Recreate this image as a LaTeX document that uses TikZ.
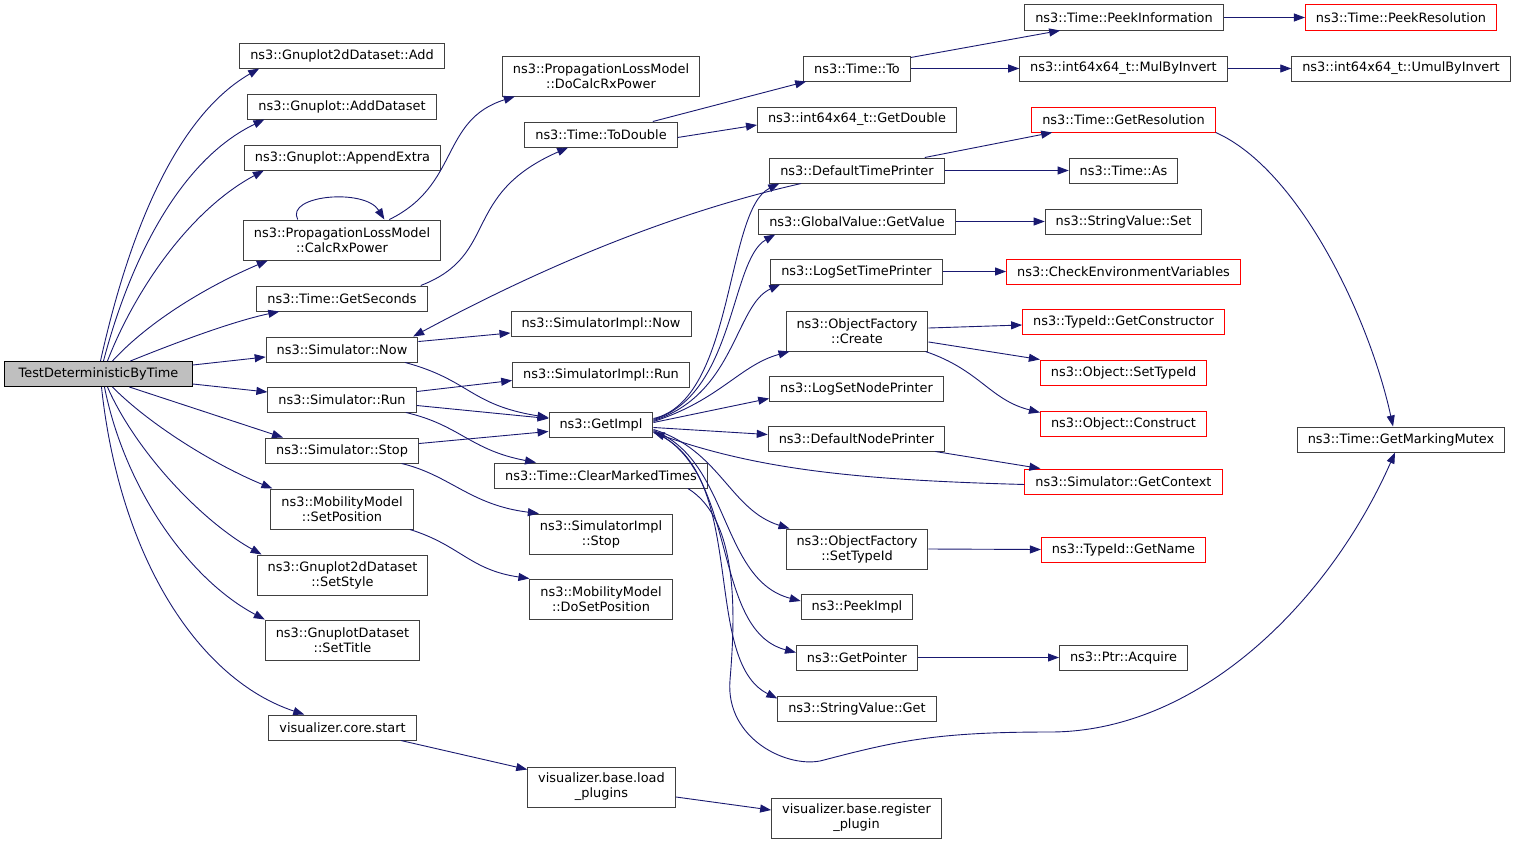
\documentclass[tikz,border=0pt]{standalone}
\usepackage{fontspec}
\setmainfont{DejaVu Sans}
\usetikzlibrary{arrows.meta}
\definecolor{edgeblue}{RGB}{25,25,112}
\definecolor{boxgray}{RGB}{64,64,64}
\definecolor{rootfill}{RGB}{191,191,191}
\tikzset{
  fn/.style={draw=boxgray, line width=1bp, fill=white, inner xsep=10.5bp, inner ysep=2bp,
    minimum height=25bp, align=center, font=\fontsize{12.9bp}{15bp}\selectfont},
  fntwo/.style={fn, minimum height=40bp},
  fnred/.style={fn, draw=red},
  fnroot/.style={fn, draw=black, fill=rootfill, minimum width=187bp},
  call/.style={draw=edgeblue, line width=0.9bp, -{Triangle[length=11bp,width=8bp]}},
}
\begin{document}
\begin{tikzpicture}[x=1bp,y=-1bp]
	\useasboundingbox (0,0) rectangle (1517,844);
	
	% Define root
	\node[fnroot] (NodeRoot) at (98.5,374) {TestDeterministicByTime};
	
	% Define column 2
	\node[fn] (NodeAdd) at (342,55.5) {ns3::Gnuplot2dDataset::Add};
	\node[fn] (NodeAddDataset) at (342,106.5) {ns3::Gnuplot::AddDataset};
	\node[fn] (NodeAppendExtra) at (342.5,157.5) {ns3::Gnuplot::AppendExtra};
	\node[fntwo] (NodeCalcRx) at (342,240) {ns3::PropagationLossModel\\::CalcRxPower};
	\node[fn] (NodeGetSeconds) at (342,298.5) {ns3::Time::GetSeconds};
	\node[fn] (NodeSimNow) at (342,349.5) {ns3::Simulator::Now};
	\node[fn] (NodeSimRun) at (342,399.5) {ns3::Simulator::Run};
	\node[fn] (NodeSimStop) at (342,450.5) {ns3::Simulator::Stop};
	\node[fntwo] (NodeSetPosition) at (342,509) {ns3::MobilityModel\\::SetPosition};
	\node[fntwo] (NodeSetStyle) at (342.5,575) {ns3::Gnuplot2dDataset\\::SetStyle};
	\node[fntwo] (NodeSetTitle) at (342.5,640) {ns3::GnuplotDataset\\::SetTitle};
	\node[fn] (NodeCoreStart) at (342.5,727.5) {visualizer.core.start};
	
	% Define column 3
	\node[fntwo] (NodeDoCalcRx) at (601,76) {ns3::PropagationLossModel\\::DoCalcRxPower};
	\node[fn] (NodeToDouble) at (601,134.5) {ns3::Time::ToDouble};
	\node[fn] (NodeImplNow) at (601,323.5) {ns3::SimulatorImpl::Now};
	\node[fn] (NodeImplRun) at (601,374.5) {ns3::SimulatorImpl::Run};
	\node[fn] (NodeGetImpl) at (601,424.5) {ns3::GetImpl};
	\node[fn] (NodeClearMarked) at (601,475.5) {ns3::Time::ClearMarkedTimes};
	\node[fntwo] (NodeImplStop) at (601,534) {ns3::SimulatorImpl\\::Stop};
	\node[fntwo] (NodeDoSetPosition) at (601,599) {ns3::MobilityModel\\::DoSetPosition};
	\node[fntwo] (NodeLoadPlugins) at (601.5,787) {visualizer.base.load\\\_plugins};
	
	% Define column 4
	\node[fn] (NodeTimeTo) at (857,68.5) {ns3::Time::To};
	\node[fn] (NodeGetDouble) at (857,119.5) {ns3::int64x64\_t::GetDouble};
	\node[fn] (NodeDefTimePrinter) at (857,170.5) {ns3::DefaultTimePrinter};
	\node[fn] (NodeGetValue) at (857,221.5) {ns3::GlobalValue::GetValue};
	\node[fn] (NodeLogSetTime) at (856.5,271.5) {ns3::LogSetTimePrinter};
	\node[fntwo] (NodeCreate) at (857,331) {ns3::ObjectFactory\\::Create};
	\node[fn] (NodeLogSetNode) at (856.5,388.5) {ns3::LogSetNodePrinter};
	\node[fn] (NodeDefNodePrinter) at (856.5,438.5) {ns3::DefaultNodePrinter};
	\node[fntwo] (NodeFactSetTypeId) at (857,549) {ns3::ObjectFactory\\::SetTypeId};
	\node[fn] (NodePeekImpl) at (857,606.5) {ns3::PeekImpl};
	\node[fn] (NodeGetPointer) at (857,657.5) {ns3::GetPointer};
	\node[fn] (NodeStrGet) at (857,708.5) {ns3::StringValue::Get};
	\node[fntwo] (NodeRegister) at (856.5,818) {visualizer.base.register\\\_plugin};
	
	% Define column 5
	\node[fn] (NodePeekInfo) at (1124,17.5) {ns3::Time::PeekInformation};
	\node[fn] (NodeMulByInvert) at (1123.5,68.5) {ns3::int64x64\_t::MulByInvert};
	\node[fnred] (NodeGetResolution) at (1123.5,119.5) {ns3::Time::GetResolution};
	\node[fn] (NodeTimeAs) at (1123.5,170.5) {ns3::Time::As};
	\node[fn] (NodeStrSet) at (1123.5,221.5) {ns3::StringValue::Set};
	\node[fnred] (NodeCheckEnv) at (1123.5,271.5) {ns3::CheckEnvironmentVariables};
	\node[fnred] (NodeGetConstructor) at (1123.5,321.5) {ns3::TypeId::GetConstructor};
	\node[fnred] (NodeObjSetTypeId) at (1123.5,372.5) {ns3::Object::SetTypeId};
	\node[fnred] (NodeObjConstruct) at (1123.5,423.5) {ns3::Object::Construct};
	\node[fnred] (NodeGetContext) at (1123.5,481.5) {ns3::Simulator::GetContext};
	\node[fnred] (NodeGetName) at (1123.5,549.5) {ns3::TypeId::GetName};
	\node[fn] (NodePtrAcquire) at (1123.5,657.5) {ns3::Ptr::Acquire};
	
	% Define column 6
	\node[fnred] (NodePeekResolution) at (1401,17.5) {ns3::Time::PeekResolution};
	\node[fn] (NodeUmulByInvert) at (1401,68.5) {ns3::int64x64\_t::UmulByInvert};
	\node[fn] (NodeMarkingMutex) at (1401,439.5) {ns3::Time::GetMarkingMutex};
	
	% Calls from the root
	\draw[call] ([xshift=2]NodeRoot.north) .. controls (125,250) and (170,120) .. ([xshift=20]NodeAdd.south west);
	\draw[call] ([xshift=5]NodeRoot.north) .. controls (130,260) and (180,160) .. ([xshift=17]NodeAddDataset.south west);
	\draw[call] ([xshift=9]NodeRoot.north) .. controls (135,290) and (190,210) .. ([xshift=20]NodeAppendExtra.south west);
	\draw[call] ([xshift=14]NodeRoot.north) .. controls (150,320) and (210,285) .. ([xshift=25]NodeCalcRx.south west);
	\draw[call] ([xshift=32]NodeRoot.north) .. controls (170,345) and (230,322) .. ([xshift=23]NodeGetSeconds.south west);
	\draw[call] ([yshift=9]NodeRoot.east) -- ([yshift=-7.5]NodeSimNow.west);
	\draw[call] ([yshift=-10]NodeRoot.east) -- ([yshift=7.5]NodeSimRun.west);
	\draw[call] ([xshift=31]NodeRoot.south) -- ([xshift=18]NodeSimStop.north west);
	\draw[call] ([xshift=14]NodeRoot.south) .. controls (150,425) and (215,465) .. ([xshift=2]NodeSetPosition.north west);
	\draw[call] ([xshift=9]NodeRoot.south) .. controls (135,450) and (200,520) .. ([xshift=5]NodeSetStyle.north west);
	\draw[call] ([xshift=6]NodeRoot.south) .. controls (125,490) and (190,580) .. (NodeSetTitle.north west);
	\draw[call] ([xshift=3]NodeRoot.south) .. controls (120,560) and (200,680) .. ([xshift=36]NodeCoreStart.north west);
	
	% Calls from column 2
	\draw[call] ([xshift=55]NodeCalcRx.north west) .. controls (285,195) and (365,188) .. ([xshift=142]NodeCalcRx.north west);
	\draw[call] ([xshift=147]NodeCalcRx.north west) .. controls (460,185) and (440,120) .. ([xshift=13]NodeDoCalcRx.south west);
	\draw[call] ([xshift=165]NodeGetSeconds.north west) .. controls (500,255) and (460,195) .. ([xshift=44]NodeToDouble.south west);
	\draw[call] ([yshift=8]NodeSimNow.east) -- ([yshift=-9.5]NodeImplNow.west);
	\draw[call] ([xshift=140]NodeSimNow.south west) .. controls (470,380) and (470,405) .. ([yshift=7]NodeGetImpl.west);
	\draw[call] ([yshift=8]NodeSimRun.east) -- ([yshift=-6]NodeImplRun.west);
	\draw[call] ([yshift=-6]NodeSimRun.east) -- ([yshift=6]NodeGetImpl.west);
	\draw[call] ([xshift=139]NodeSimRun.south west) .. controls (460,425) and (470,450) .. ([xshift=42]NodeClearMarked.north west);
	\draw[call] ([yshift=7]NodeSimStop.east) -- ([yshift=-7]NodeGetImpl.west);
	\draw[call] ([xshift=137]NodeSimStop.south west) .. controls (450,475) and (470,505) .. ([xshift=10]NodeImplStop.north west);
	\draw[call] ([xshift=140]NodeSetPosition.south west) .. controls (460,545) and (470,570) .. (NodeDoSetPosition.north west);
	\draw[call] ([xshift=133]NodeCoreStart.south west) -- ([yshift=-3]NodeLoadPlugins.north west);
	
	% Calls from column 3
	\draw[call] ([xshift=129]NodeToDouble.north west) -- ([xshift=3]NodeTimeTo.south west);
	\draw[call] ([yshift=-3]NodeToDouble.east) -- ([yshift=-5.5]NodeGetDouble.west);
	\draw[call] ([yshift=-10]NodeLoadPlugins.east) -- ([yshift=8]NodeRegister.west);
	\draw[call] ([yshift=6]NodeGetImpl.east) .. controls (735,400) and (725,210) .. ([xshift=10]NodeDefTimePrinter.south west);
	\draw[call] ([yshift=5]NodeGetImpl.east) .. controls (735,395) and (730,260) .. ([xshift=17]NodeGetValue.south west);
	\draw[call] ([yshift=4]NodeGetImpl.east) .. controls (735,395) and (735,305) .. ([xshift=10]NodeLogSetTime.south west);
	\draw[call] ([yshift=3]NodeGetImpl.east) .. controls (720,400) and (740,365) .. ([xshift=4]NodeCreate.south west);
	\draw[call] ([yshift=2]NodeGetImpl.east) -- ([yshift=-10]NodeLogSetNode.west);
	\draw[call] ([yshift=-3]NodeGetImpl.east) -- ([yshift=4]NodeDefNodePrinter.west);
	\draw[call] ([yshift=-5]NodeGetImpl.east) .. controls (720,450) and (730,510) .. ([xshift=4]NodeFactSetTypeId.north west);
	\draw[call] ([yshift=-6]NodeGetImpl.east) .. controls (730,460) and (720,580) .. ([yshift=5.5]NodePeekImpl.west);
	\draw[call] ([yshift=-7]NodeGetImpl.east) .. controls (740,470) and (710,630) .. ([yshift=5]NodeGetPointer.west);
	\draw[call] ([yshift=-8]NodeGetImpl.east) .. controls (750,470) and (700,660) .. ([yshift=-3]NodeStrGet.north west);
	\draw[call] ([xshift=-20]NodeClearMarked.south east) .. controls (740,520) and (735,620) .. (730,680)
		.. controls (725,740) and (790,770) .. (824,760) .. controls (900,740) and (940,732) .. (1050,732)
		.. controls (1200,732) and (1330,600) .. ([xshift=-6]NodeMarkingMutex.south);
	
	% Calls from column 4
	\draw[call] ([yshift=-2]NodeTimeTo.north east) -- ([xshift=36]NodePeekInfo.south west);
	\draw[call] (NodeTimeTo.east) -- (NodeMulByInvert.west);
	\draw[call] ([xshift=32]NodeDefTimePrinter.south west) .. controls (640,220) and (500,290) .. ([xshift=148]NodeSimNow.north west);
	\draw[call] ([xshift=-20]NodeDefTimePrinter.north east) -- ([xshift=21]NodeGetResolution.south west);
	\draw[call] (NodeDefTimePrinter.east) -- (NodeTimeAs.west);
	\draw[call] (NodeGetValue.east) -- (NodeStrSet.west);
	\draw[call] (NodeLogSetTime.east) -- (NodeCheckEnv.west);
	\draw[call] ([yshift=3]NodeCreate.east) -- ([yshift=-3.5]NodeGetConstructor.west);
	\draw[call] ([yshift=-11]NodeCreate.east) -- (NodeObjSetTypeId.north west);
	\draw[call] ([xshift=-3]NodeCreate.south east) .. controls (980,370) and (990,400) .. ([yshift=-2]NodeObjConstruct.north west);
	\draw[call] ([xshift=-10]NodeDefNodePrinter.south east) -- ([xshift=16]NodeGetContext.north west);
	\draw[call] (NodeFactSetTypeId.east) -- (NodeGetName.west);
	\draw[call] (NodeGetPointer.east) -- (NodePtrAcquire.west);
	
	% Calls from column 5
	\draw[call] (NodePeekInfo.east) -- (NodePeekResolution.west);
	\draw[call] (NodeMulByInvert.east) -- (NodeUmulByInvert.west);
	\draw[call] ([yshift=-3]NodeGetContext.west) .. controls (860,480) and (760,470) .. ([yshift=-8]NodeGetImpl.east);
	\draw[call] (NodeGetResolution.south east) .. controls (1300,170) and (1370,320) .. ([xshift=-8]NodeMarkingMutex.north);
\end{tikzpicture}
\end{document}
